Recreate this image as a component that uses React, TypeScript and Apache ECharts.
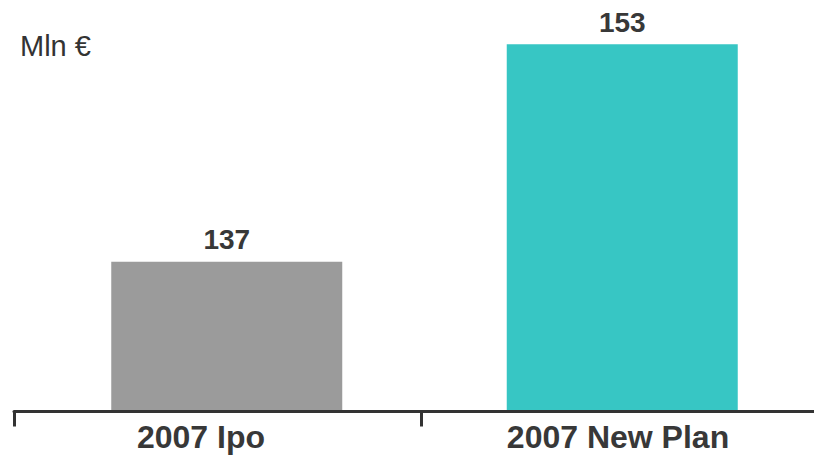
import React, { useEffect, useRef } from "react";
import * as echarts from "echarts";

const categories = ["2007 Ipo", "2007 New Plan"];
const values = [137, 153];
const barColors = ["#9b9b9b", "#37c6c4"];
const unitLabel = "Mln €";

export default function App() {
  const ref = useRef<HTMLDivElement>(null);
  useEffect(() => {
    if (!ref.current) return;
    const chart = echarts.init(ref.current, null, { renderer: "svg" });
    const font = "Liberation Sans, Arial, sans-serif";
    chart.setOption({
      animation: false,
      backgroundColor: "#ffffff",
      grid: [
        { left: 14, right: 14, top: 17, bottom: 43.5 },
        { left: 29, right: 22, top: 17, bottom: 43.5 },
      ],
      xAxis: [
        {
          type: "category",
          gridIndex: 0,
          data: categories,
          axisLine: { show: true, lineStyle: { color: "#333333", width: 3 } },
          axisTick: { show: true, length: 15, lineStyle: { color: "#333333", width: 3 } },
          axisLabel: {
            margin: 10,
            formatter: (v: string, i: number) => (i === 0 ? `{a|${v}}` : `{b|${v}}`),
            rich: {
              a: {
                fontSize: 32,
                lineHeight: 30,
                fontWeight: "bold",
                color: "#383838",
                fontFamily: font,
                padding: [0, 33, 0, 0],
              },
              b: {
                fontSize: 32,
                lineHeight: 30,
                fontWeight: "bold",
                color: "#383838",
                fontFamily: font,
                padding: [0, 13, 0, 0],
              },
            },
          },
          z: 10,
        },
        {
          type: "category",
          gridIndex: 1,
          data: categories,
          show: false,
        },
      ],
      yAxis: [
        { type: "value", gridIndex: 0, min: 126, max: 155, show: false },
        { type: "value", gridIndex: 1, min: 126, max: 155, show: false },
      ],
      series: [
        {
          type: "bar",
          xAxisIndex: 1,
          yAxisIndex: 1,
          barWidth: 231,
          data: values.map((v, i) => ({ value: v, itemStyle: { color: barColors[i] } })),
          label: {
            show: true,
            position: "top",
            distance: 8,
            fontSize: 28,
            fontWeight: "bold",
            color: "#383838",
            fontFamily: font,
          },
        },
      ],
      graphic: [
        {
          type: "text",
          left: 20,
          top: 31,
          style: {
            text: unitLabel,
            fontSize: 29,
            fill: "#333333",
            fontFamily: font,
          },
        },
      ],
    });
    return () => chart.dispose();
  }, []);
  return (
    <div
      style={{
        position: "absolute",
        left: 0,
        top: 0,
        width: 814,
        height: 455,
        overflow: "hidden",
        background: "#ffffff",
      }}
    >
      <div ref={ref} style={{ width: 842, height: 455 }} />
    </div>
  );
}
